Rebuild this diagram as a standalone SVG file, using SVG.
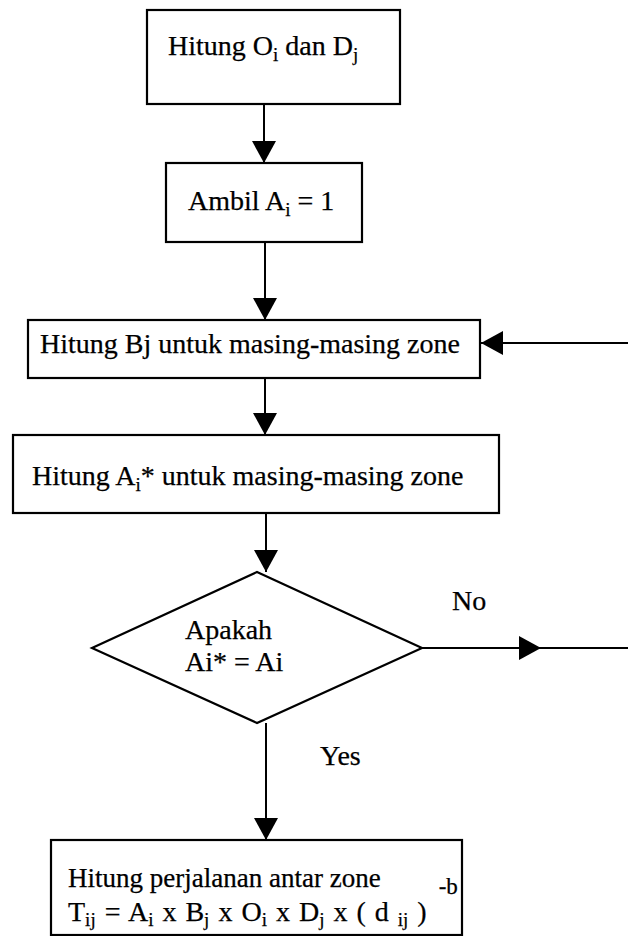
<svg xmlns="http://www.w3.org/2000/svg" width="628" height="936" viewBox="0 0 628 936">
<defs>
<marker id="ah" markerWidth="22" markerHeight="24" refX="22" refY="12" orient="auto" markerUnits="userSpaceOnUse">
<path d="M0,0 L22,12 L0,24 Z" fill="#000"/>
</marker>
<style>
.box{fill:#fff;stroke:#000;stroke-width:2.2}
.t{font-family:"Liberation Serif","Times New Roman",serif;font-size:28px;fill:#000;stroke:#000;stroke-width:0.25}
.s{font-size:19px}
.c{stroke:#000;stroke-width:2;fill:none}
</style>
</defs>
<rect width="628" height="936" fill="#fff"/>
<g id="connectors">
<line class="c" x1="264" y1="104" x2="264" y2="163" marker-end="url(#ah)"/>
<line class="c" x1="265" y1="242" x2="265" y2="320" marker-end="url(#ah)"/>
<line class="c" x1="265" y1="378" x2="265" y2="435" marker-end="url(#ah)"/>
<line class="c" x1="266" y1="513" x2="266" y2="572" marker-end="url(#ah)"/>
<line class="c" x1="266" y1="723" x2="266" y2="840" marker-end="url(#ah)"/>
<line class="c" x1="628" y1="343" x2="481" y2="343" marker-end="url(#ah)"/>
<line class="c" x1="422" y1="648" x2="628" y2="648"/>
<line class="c" x1="422" y1="648" x2="541" y2="648" marker-end="url(#ah)"/>
<text class="t" x="452" y="610">No</text>
<text class="t" x="320" y="765">Yes</text>
</g>
<g id="n1">
<rect class="box" x="147" y="10" width="253" height="94"/>
<text class="t" x="168" y="55">Hitung O<tspan class="s" dy="6">i</tspan><tspan dy="-6"> dan D</tspan><tspan class="s" dy="6">j</tspan></text>
</g>
<g id="n2">
<rect class="box" x="166" y="163" width="196" height="79"/>
<text class="t" x="188" y="210">Ambil A<tspan class="s" dy="6">i</tspan><tspan dy="-6"> = 1</tspan></text>
</g>
<g id="n3">
<rect class="box" x="28" y="320" width="452" height="58"/>
<text class="t" x="40" y="353">Hitung Bj untuk masing-masing zone</text>
</g>
<g id="n4">
<rect class="box" x="13" y="435" width="486" height="78"/>
<text class="t" x="32" y="485">Hitung A<tspan class="s" dy="6">i</tspan><tspan dy="-6">* untuk masing-masing zone</tspan></text>
</g>
<g id="n5">
<polygon class="box" points="257,572 422,648 257,723 92,648"/>
<text class="t" x="185" y="639">Apakah</text>
<text class="t" x="185" y="671">Ai* = Ai</text>
</g>
<g id="n6">
<rect class="box" x="51" y="840" width="411" height="95"/>
<text class="t" x="68" y="887" style="font-size:27px">Hitung perjalanan antar zone</text>
<text class="t" x="68" y="921" style="word-spacing:2px">T<tspan class="s" dy="5">ij</tspan><tspan dy="-5"> = A</tspan><tspan class="s" dy="5">i</tspan><tspan dy="-5"> x B</tspan><tspan class="s" dy="5">j</tspan><tspan dy="-5"> x O</tspan><tspan class="s" dy="5">i</tspan><tspan dy="-5"> x D</tspan><tspan class="s" dy="5">j</tspan><tspan dy="-5"> x ( d </tspan><tspan class="s" dy="5">ij</tspan><tspan dy="-5"> ) </tspan><tspan style="font-size:23px" dx="3" dy="-27">-b</tspan></text>
</g>
</svg>
